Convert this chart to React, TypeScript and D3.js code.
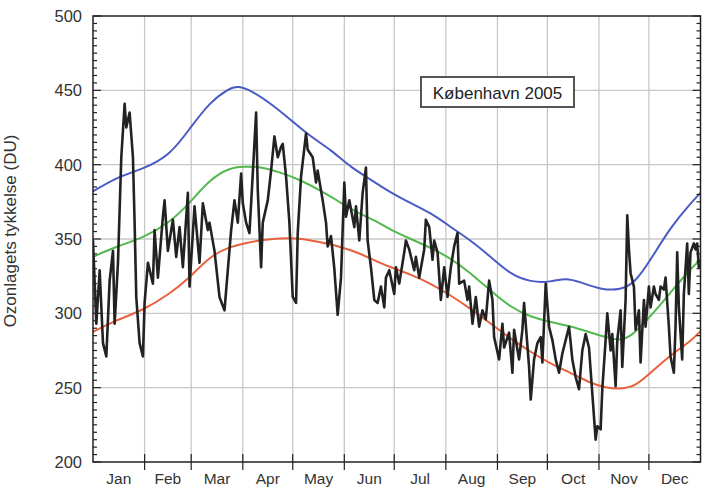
import React from "react";
import * as d3 from "d3";

const monthLabels = ["Jan", "Feb", "Mar", "Apr", "May", "Jun", "Jul", "Aug", "Sep", "Oct", "Nov", "Dec"];
const monthStarts = [1, 32, 60, 91, 121, 152, 182, 213, 244, 274, 305, 335, 366];
const yTicks = [200, 250, 300, 350, 400, 450, 500];

// Climatological max (blue)
const maxDays = [1, 16, 31, 47, 59, 71, 83, 88, 96, 108, 120, 132, 144, 156, 168, 180, 192, 204, 216, 228, 240, 252, 264, 276, 285, 294, 306, 318, 327, 336, 348, 360, 366];
const maxVals = [382, 392, 397, 406, 424, 442, 451.5, 453, 450, 441, 430, 418.6, 410, 398, 390, 381, 374, 367.5, 358, 349, 338, 326, 321, 321, 324, 321, 316, 315.5, 321, 336, 358, 374, 381];

// Climatological mean (green)
const meanDays = [1, 15, 31, 47, 59, 71, 83, 92, 101, 113, 125, 137, 149, 161, 173, 180, 192, 204, 216, 228, 240, 252, 264, 276, 288, 300, 312, 318, 324, 336, 348, 360, 366];
const meanVals = [338, 345, 350.6, 361, 374, 390, 398, 398.7, 398.7, 395, 390, 383, 375, 367, 361, 356, 350, 344, 337, 327, 315, 304, 297.5, 294, 291.5, 287, 283, 282, 284, 298, 314, 330, 336];

// Climatological min (red)
const minDays = [1, 15, 31, 47, 59, 71, 83, 96, 101, 113, 125, 137, 149, 161, 173, 180, 192, 204, 216, 228, 240, 252, 264, 276, 288, 300, 309, 318, 327, 336, 348, 360, 366];
const minVals = [287.5, 295.5, 302, 313, 324, 338, 345, 348, 349, 350.6, 350.6, 348, 345, 340.6, 334, 331, 326, 320, 312, 303, 293, 283, 274, 266, 260, 253, 250, 249, 251, 260, 272, 281, 288];

// Daily ozone 2005 (black)
const obsDays = [1, 3, 5, 7, 9, 11, 13, 14, 16, 18, 20, 21, 23, 25, 26, 27, 29, 31, 32, 34, 37, 38, 40, 43, 44, 46, 49, 51, 53, 55, 58, 59, 62, 65, 67, 70, 71, 74, 77, 80, 82, 84, 86, 88, 90, 91, 93, 95, 97, 99, 100, 102, 103, 106, 108, 110, 112, 114, 115, 117, 119, 121, 123, 124, 126, 129, 130, 133, 135, 136, 139, 141, 142, 144, 146, 148, 150, 152, 153, 155, 158, 159, 161, 163, 165, 166, 168, 170, 172, 174, 176, 177, 179, 182, 183, 185, 188, 189, 191, 194, 195, 197, 200, 201, 203, 205, 206, 208, 210, 212, 214, 216, 218, 220, 221, 224, 226, 227, 229, 231, 233, 235, 237, 239, 241, 242, 245, 247, 248, 251, 253, 254, 257, 259, 260, 263, 264, 266, 268, 270, 271, 273, 275, 277, 279, 281, 283, 285, 287, 289, 291, 293, 295, 297, 299, 301, 303, 304, 306, 307, 309, 310, 312, 313, 315, 316, 318, 319, 321, 322, 323, 324, 326, 327, 329, 330, 332, 333, 335, 336, 338, 339, 341, 342, 344, 345, 347, 348, 350, 351, 352, 353, 355, 356, 358, 359, 360, 362, 363, 364, 365];
const obsVals = [349, 293, 329, 280, 271, 322, 342, 293, 334, 405, 441, 425, 435, 405, 361, 311, 280, 271, 307, 334, 320, 356, 324, 365, 376, 342, 363, 338, 358, 331, 381, 318, 372, 334, 374, 356, 361, 342, 311, 302, 329, 356, 376, 361, 394, 374, 361, 354, 394, 435, 383, 331, 361, 376, 396, 419, 405, 412, 414, 392, 361, 311, 307, 354, 392, 421, 410, 405, 388, 396, 376, 361, 345, 352, 330, 299, 324, 388, 365, 376, 358, 372, 349, 381, 398, 349, 331, 309, 307, 318, 304, 324, 329, 313, 331, 320, 341, 349, 343, 329, 338, 324, 343, 363, 358, 336, 349, 341, 309, 331, 311, 331, 345, 354, 320, 322, 309, 318, 293, 311, 291, 302, 296, 322, 309, 284, 269, 293, 277, 287, 260, 289, 269, 289, 307, 264, 242, 269, 280, 284, 267, 320, 291, 282, 269, 260, 273, 282, 291, 269, 257, 249, 275, 286, 277, 246, 215, 224, 222, 249, 282, 300, 275, 286, 251, 282, 302, 264, 309, 366, 343, 327, 318, 289, 302, 267, 309, 291, 318, 304, 318, 313, 309, 318, 316, 324, 291, 271, 260, 291, 341, 304, 269, 313, 347, 313, 341, 347, 343, 347, 331];

const W = 702;
const H = 487;
const L = 93;
const R = 700.5;
const T = 16;
const B = 462;

export default function App() {
  const x = d3.scaleLinear().domain([1, 366]).range([L, R]);
  const y = d3.scaleLinear().domain([200, 500]).range([B, T]);

  const smooth = d3
    .line<[number, number]>()
    .x((d) => x(d[0]))
    .y((d) => y(d[1]))
    .curve(d3.curveBasis);
  const raw = d3
    .line<[number, number]>()
    .x((d) => x(d[0]))
    .y((d) => y(d[1]))
    .curve(d3.curveLinear);

  const zip = (a: number[], b: number[]) => a.map((v, i) => [v, b[i]] as [number, number]);

  const minorTicks = d3.range(200, 501, 5);
  const font = "'Liberation Sans', Arial, Helvetica, sans-serif";

  return (
    <div style={{ position: "absolute", left: 0, top: 0 }}>
      <svg width={W} height={H} style={{ display: "block", background: "#fff" }}>
        <defs>
          <clipPath id="plot">
            <rect x={L} y={T} width={R - L} height={B - T} />
          </clipPath>
        </defs>
        {/* grid */}
        {yTicks.slice(1, -1).map((t) => (
          <line key={"gy" + t} x1={L} x2={R} y1={y(t)} y2={y(t)} stroke="#c8c8c8" strokeWidth={1.3} />
        ))}
        {monthStarts.slice(1, -1).map((d) => (
          <line key={"gx" + d} x1={x(d)} x2={x(d)} y1={T} y2={B} stroke="#c8c8c8" strokeWidth={1.3} />
        ))}

        <g clipPath="url(#plot)" fill="none" strokeLinejoin="round" strokeLinecap="round">
          <path d={smooth(zip(maxDays, maxVals)) || ""} stroke="#4a5bc6" strokeWidth={2} />
          <path d={smooth(zip(meanDays, meanVals)) || ""} stroke="#52b84e" strokeWidth={2} />
          <path d={smooth(zip(minDays, minVals)) || ""} stroke="#e9603c" strokeWidth={2} />
          <path d={raw(zip(obsDays, obsVals)) || ""} stroke="#222" strokeWidth={2.6} />
        </g>

        {/* frame */}
        <rect x={L} y={T} width={R - L} height={B - T} fill="none" stroke="#222" strokeWidth={1.5} />

        {/* y ticks */}
        {minorTicks.map((t) => {
          const major = t % 50 === 0;
          const len = major ? 8 : 4;
          return (
            <g key={"yt" + t}>
              <line x1={L} x2={L + len} y1={y(t)} y2={y(t)} stroke="#222" strokeWidth={1.2} />
              <line x1={R - len} x2={R} y1={y(t)} y2={y(t)} stroke="#222" strokeWidth={1.2} />
            </g>
          );
        })}
        {yTicks.map((t) => (
          <text key={"yl" + t} x={82} y={y(t) + 6} textAnchor="end" fontFamily={font} fontSize={16.5} fill="#333">
            {t}
          </text>
        ))}

        {/* x ticks */}
        {monthStarts.slice(1, -1).map((d) => (
          <line key={"xt" + d} x1={x(d)} x2={x(d)} y1={B - 8} y2={B + 8} stroke="#222" strokeWidth={1.2} />
        ))}
        {monthLabels.map((m, i) => (
          <text
            key={m}
            x={x((monthStarts[i] + monthStarts[i + 1]) / 2)}
            y={484}
            textAnchor="middle"
            fontFamily={font}
            fontSize={15.5}
            fill="#333"
          >
            {m}
          </text>
        ))}

        {/* y label */}
        <text
          transform={`translate(16, 231) rotate(-90)`}
          textAnchor="middle"
          fontFamily={font}
          fontSize={17}
          fill="#333"
        >
          Ozonlagets tykkelse (DU)
        </text>

        {/* title box */}
        <rect x={421} y={77} width={153} height={30} fill="#fff" stroke="#555" strokeWidth={2} />
        <text x={497.5} y={99} textAnchor="middle" fontFamily={font} fontSize={17} fill="#222">
          København 2005
        </text>
      </svg>
    </div>
  );
}
